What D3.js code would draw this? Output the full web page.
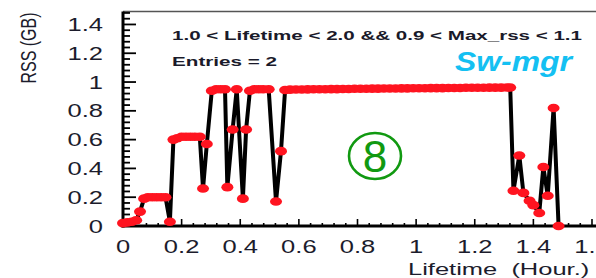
<!DOCTYPE html>
<html>
<head>
<meta charset="utf-8">
<script src="https://cdn.jsdelivr.net/npm/d3@7"></script>
<style>
  html, body { margin: 0; padding: 0; background: #fff; }
  svg { display: block; font-family: "Liberation Sans", Arial, sans-serif; }
</style>
</head>
<body>
<div id="chart"></div>
<script>
// Lifetime (hours) and RSS (GB)
const lifetime = [
  0.000, 0.015, 0.030, 0.045, 0.058, 0.072, 0.085, 0.100, 0.115, 0.130, 0.145,
  0.160, 0.172, 0.185, 0.200, 0.215, 0.230, 0.245, 0.262, 0.273, 0.286, 0.303,
  0.318, 0.333, 0.348, 0.356, 0.374, 0.388, 0.409, 0.420, 0.433, 0.448, 0.463,
  0.478, 0.497, 0.522, 0.539, 0.553,
  0.57, 0.59, 0.61, 0.63, 0.65, 0.67, 0.69, 0.71, 0.73, 0.75, 0.77, 0.79, 0.81,
  0.83, 0.85, 0.87, 0.89, 0.91, 0.93, 0.95, 0.97, 0.99, 1.01, 1.03, 1.05, 1.07,
  1.09, 1.11, 1.13, 1.15, 1.17, 1.19, 1.21, 1.23, 1.25, 1.27, 1.29, 1.31,
  1.321, 1.332, 1.352, 1.366, 1.387, 1.400, 1.420, 1.434, 1.449, 1.469, 1.486
]
const rss = [
  0.02, 0.025, 0.03, 0.04, 0.10, 0.19, 0.20, 0.20, 0.20, 0.20, 0.20,
  0.03, 0.60, 0.61, 0.62, 0.62, 0.62, 0.62, 0.62, 0.26, 0.57, 0.94,
  0.95, 0.95, 0.95, 0.27, 0.67, 0.95, 0.19, 0.67, 0.94, 0.95, 0.95,
  0.95, 0.95, 0.17, 0.52, 0.945,
  0.947, 0.948, 0.948, 0.949, 0.95, 0.95, 0.95, 0.951, 0.951, 0.952, 0.952, 0.953, 0.953,
  0.953, 0.954, 0.954, 0.955, 0.955, 0.955, 0.956, 0.956, 0.957, 0.957, 0.957, 0.958, 0.958,
  0.958, 0.959, 0.959, 0.959, 0.96, 0.96, 0.96, 0.96, 0.961, 0.961, 0.961, 0.962,
  0.962, 0.245, 0.49, 0.23, 0.175, 0.145, 0.09, 0.41, 0.21, 0.82, 0.0
]
const xTicks = [0, 0.2, 0.4, 0.6, 0.8, 1, 1.2, 1.4, 1.6]
const yTicks = [0, 0.2, 0.4, 0.6, 0.8, 1, 1.2, 1.4]

const width = 596, height = 278
const stretch = 1.42  // the picture is widened horizontally

const svg = d3.select("#chart").append("svg")
  .attr("width", width).attr("height", height)

const x = d3.scaleLinear().domain([0, 1.6]).range([123, 592])
const y = d3.scaleLinear().domain([0, 1.49]).range([226, 11.5])

const data = lifetime.map((t, i) => ({ t, v: rss[i] }))

// frame: top line
svg.append("line")
  .attr("x1", x(0)).attr("x2", width + 5)
  .attr("y1", y(1.49)).attr("y2", y(1.49))
  .attr("stroke", "#555").attr("stroke-width", 1.5)

// minor / major ticks on y
d3.range(0, 1.49, 0.04).forEach(v => {
  const major = yTicks.some(t => Math.abs(t - v) < 1e-6)
  svg.append("line")
    .attr("x1", x(0)).attr("x2", x(0) + (major ? 13 : 7))
    .attr("y1", y(v)).attr("y2", y(v))
    .attr("stroke", "#000").attr("stroke-width", 1.8)
})
// ticks on x
d3.range(0, 1.62, 0.04).forEach(v => {
  const major = xTicks.some(t => Math.abs(t - v) < 1e-6)
  svg.append("line")
    .attr("x1", x(v)).attr("x2", x(v))
    .attr("y1", y(0)).attr("y2", y(0) - (major ? 7 : 3))
    .attr("stroke", "#000").attr("stroke-width", 1.6)
})

// axes lines
svg.append("line")
  .attr("x1", x(0)).attr("x2", x(0))
  .attr("y1", y(1.49)).attr("y2", y(0) + 1.5)
  .attr("stroke", "#000").attr("stroke-width", 3)
svg.append("line")
  .attr("x1", x(0) - 1.5).attr("x2", width + 5)
  .attr("y1", y(0)).attr("y2", y(0))
  .attr("stroke", "#000").attr("stroke-width", 3)

// tick labels
yTicks.forEach(v => {
  svg.append("text")
    .attr("transform", `translate(103,${y(v) + 6.5}) scale(${stretch},1)`)
    .attr("text-anchor", "end")
    .attr("font-size", 18)
    .attr("fill", "#1c1c2c")
    .text(d3.format("~g")(v))
})
xTicks.forEach(v => {
  svg.append("text")
    .attr("transform", `translate(${x(v)},${y(0) + 27}) scale(${stretch},1)`)
    .attr("text-anchor", "middle")
    .attr("font-size", 18)
    .attr("fill", "#1c1c2c")
    .text(d3.format("~g")(v))
})

// axis titles
svg.append("text")
  .attr("transform", `translate(408,275) scale(1.5,1)`)
  .attr("font-size", 17)
  .attr("fill", "#1c1c2c")
  .attr("xml:space", "preserve")
  .text("Lifetime  (Hour.)")
svg.append("text")
  .attr("transform", `translate(36,48) scale(${stretch},1) rotate(-90)`)
  .attr("text-anchor", "middle")
  .attr("font-size", 16)
  .attr("fill", "#1c1c2c")
  .text("RSS (GB)")

// series line
const line = d3.line().x(d => x(d.t)).y(d => y(d.v))
svg.append("path")
  .datum(data)
  .attr("fill", "none")
  .attr("stroke", "#000")
  .attr("stroke-width", 4)
  .attr("stroke-linejoin", "round")
  .attr("d", line)

// markers
svg.append("g").selectAll("ellipse")
  .data(data)
  .join("ellipse")
  .attr("cx", d => x(d.t))
  .attr("cy", d => y(d.v))
  .attr("rx", 6).attr("ry", 4.3)
  .attr("fill", "#ff1420")

// annotations
svg.append("text")
  .attr("x", 172).attr("y", 40)
  .attr("font-size", 12.5).attr("font-weight", "bold")
  .attr("fill", "#1a1a2a")
  .attr("textLength", 410).attr("lengthAdjust", "spacingAndGlyphs")
  .text("1.0 < Lifetime < 2.0 && 0.9 < Max_rss < 1.1")
svg.append("text")
  .attr("x", 172).attr("y", 66)
  .attr("font-size", 12.5).attr("font-weight", "bold")
  .attr("fill", "#1a1a2a")
  .attr("textLength", 105).attr("lengthAdjust", "spacingAndGlyphs")
  .text("Entries = 2")
svg.append("text")
  .attr("x", 455).attr("y", 71)
  .attr("font-size", 28).attr("font-weight", "bold").attr("font-style", "italic")
  .attr("fill", "#14c0f2")
  .attr("textLength", 117).attr("lengthAdjust", "spacingAndGlyphs")
  .text("Sw-mgr")

// circled number
svg.append("ellipse")
  .attr("cx", 375).attr("cy", 156)
  .attr("rx", 26).attr("ry", 23)
  .attr("fill", "none").attr("stroke", "#119911").attr("stroke-width", 2.6)
svg.append("text")
  .attr("x", 375).attr("y", 172)
  .attr("text-anchor", "middle")
  .attr("font-size", 44)
  .attr("fill", "#119911")
  .text("8")
</script>
</body>
</html>
